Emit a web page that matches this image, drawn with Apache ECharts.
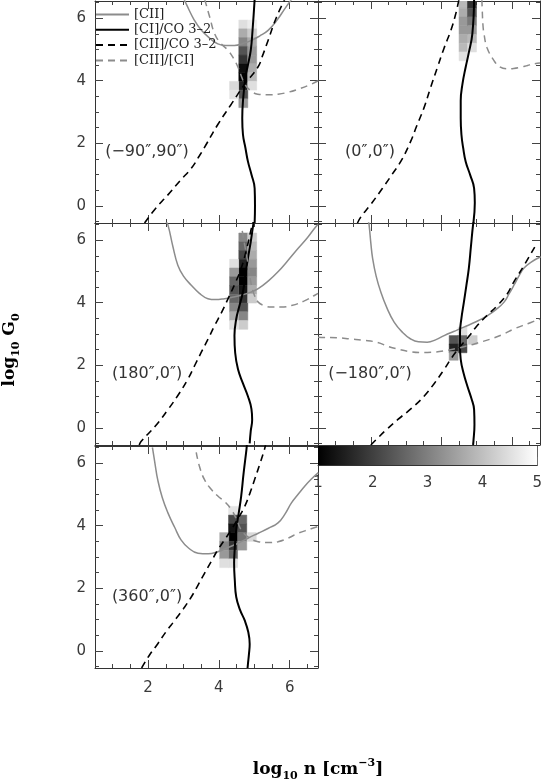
<!DOCTYPE html>
<html>
<head>
<meta charset="utf-8">
<script src="https://cdn.jsdelivr.net/npm/echarts@6/dist/echarts.min.js"></script>
<style>
html, body { margin: 0; padding: 0; background: #fff; }
#chart { width: 545px; height: 781px; }
</style>
</head>
<body>
<div id="chart"></div>
<script>
// axis ranges and ticks
const X_RANGE = [0.5, 6.8];
const Y_RANGE = [-0.55, 6.55];
const X_MAJOR = [2, 4, 6];
const X_MINOR = [1, 1.5, 2.5, 3, 3.5, 4.5, 5, 5.5, 6.5];
const Y_MAJOR = [0, 2, 4, 6];
const Y_MINOR = [-0.5, 0.5, 1, 1.5, 2.5, 3, 3.5, 4.5, 5, 5.5, 6.5];
const CBAR_RANGE = [1, 5];
const CBAR_TICKS = [1, 2, 3, 4, 5];

const seriesNames = ['[CII]', '[CI]/CO 3\u20132', '[CII]/CO 3\u20132', '[CII]/[CI]'];
const panelLabels = ['(\u221290\u2033,90\u2033)', '(0\u2033,0\u2033)', '(180\u2033,0\u2033)', '(\u2212180\u2033,0\u2033)', '(360\u2033,0\u2033)'];

// panel 1 (-90",90")
const p1Cii = [[3.02,6.6],[3.1,6.4],[3.3,5.95],[3.5,5.62],[3.75,5.35],[3.97,5.18],[4.2,5.13],[4.44,5.13],[4.7,5.2],[4.92,5.29],[5.15,5.43],[5.39,5.61],[5.65,5.95],[5.86,6.3],[6.05,6.6]];
const p1CiCo = [[5.01,6.6],[4.95,5.6],[4.9,4.97],[4.82,4.5],[4.75,4.11],[4.68,3.35],[4.66,2.8],[4.68,2.28],[4.75,1.85],[4.82,1.42],[4.92,1.0],[5.01,0.56],[5.02,0.0],[5.01,-0.55]];
const p1CiiCo = [[1.9,-0.55],[2.2,-0.1],[2.56,0.35],[2.9,0.8],[3.22,1.2],[3.45,1.6],[3.64,1.96],[3.97,2.6],[4.35,3.25],[4.73,3.89],[5.1,4.43],[5.25,4.85],[5.39,5.29],[5.63,6.04],[5.86,6.6]];
const p1CiiCi = [[3.6,6.6],[3.75,6.0],[3.88,5.5],[4.05,5.2],[4.26,4.97],[4.42,4.7],[4.54,4.43],[4.65,4.1],[4.73,3.89],[4.9,3.68],[5.1,3.57],[5.4,3.55],[5.67,3.57],[5.95,3.63],[6.24,3.73],[6.55,3.86],[6.81,4.0]];
const p1Heat = [[4.69,5.80,4.5],[4.69,5.52,3.7],[4.69,5.24,3.1],[4.69,4.96,2.3],[4.69,4.68,1.8],[4.69,4.40,1.2],[4.69,4.12,1.0],[4.69,3.84,1.5],[4.69,3.56,2.3],[4.69,3.28,3.4],
  [4.94,5.80,4.7],[4.94,5.52,4.2],[4.94,5.24,3.7],[4.94,4.96,3.4],[4.94,4.68,3.4],[4.94,4.40,3.7],[4.94,4.12,3.9],[4.94,3.84,4.5],
  [4.43,3.84,4.4],[4.43,3.56,4.6]];

// panel 2 (0",0")
const p2Cii = [];
const p2CiCo = [[4.93,6.6],[4.88,5.5],[4.78,4.9],[4.69,4.43],[4.6,3.9],[4.55,3.35],[4.55,2.8],[4.57,2.28],[4.62,1.85],[4.69,1.42],[4.82,0.98],[4.93,0.56],[4.95,0.1],[4.91,-0.55]];
const p2CiiCo = [[1.62,-0.55],[1.72,-0.35],[2.0,0.05],[2.33,0.56],[2.6,1.0],[2.85,1.42],[3.13,2.06],[3.3,2.55],[3.51,3.14],[3.7,3.8],[3.89,4.43],[4.08,5.05],[4.27,5.61],[4.4,6.1],[4.5,6.6]];
const p2CiiCi = [[5.15,6.6],[5.16,6.3],[5.18,5.8],[5.21,5.5],[5.3,5.05],[5.49,4.65],[5.65,4.45],[5.87,4.38],[6.05,4.39],[6.25,4.43],[6.45,4.49],[6.63,4.54],[6.8,4.57]];
const p2Heat = [[4.63,6.46,3.9],[4.63,6.18,3.7],[4.63,5.90,3.4],[4.63,5.62,3.4],[4.63,5.34,3.7],[4.63,5.06,3.9],[4.63,4.78,4.5],
  [4.87,6.46,1.8],[4.87,6.18,2.3],[4.87,5.90,2.9],[4.87,5.62,3.4],[4.87,5.34,3.9],[4.87,5.06,4.5]];

// panel 3 (180",0")
const p3Cii = [[2.5,6.6],[2.56,6.49],[2.7,5.8],[2.84,5.2],[3.0,4.85],[3.22,4.56],[3.45,4.3],[3.69,4.13],[3.9,4.1],[4.16,4.13],[4.4,4.18],[4.63,4.24],[4.88,4.33],[5.11,4.45],[5.4,4.7],[5.67,4.99],[5.95,5.35],[6.24,5.74],[6.5,6.08],[6.71,6.39],[6.8,6.5]];
const p3CiCo = [[4.99,6.6],[4.97,6.49],[4.9,5.95],[4.82,5.42],[4.75,4.9],[4.68,4.35],[4.58,3.9],[4.49,3.48],[4.44,2.95],[4.46,2.4],[4.54,1.87],[4.68,1.42],[4.82,1.01],[4.92,0.6],[4.94,0.26],[4.9,-0.1],[4.87,-0.5]];
const p3CiiCo = [[1.75,-0.55],[1.8,-0.44],[2.2,0.05],[2.56,0.58],[2.85,1.05],[3.12,1.55],[3.32,2.0],[3.5,2.41],[3.7,2.85],[3.88,3.27],[4.08,3.7],[4.26,4.13],[4.45,4.6],[4.63,5.1],[4.78,5.7],[4.92,6.39],[4.97,6.6]];
const p3CiiCi = [[4.66,6.3],[4.72,5.9],[4.8,5.4],[4.86,4.95],[4.92,4.56],[5.0,4.25],[5.11,4.02],[5.3,3.9],[5.48,3.86],[5.75,3.86],[6.05,3.91],[6.4,4.05],[6.71,4.24],[6.8,4.3]];
const p3Heat = [[4.69,6.09,3.1],[4.69,5.81,2.6],[4.69,5.53,2.1],[4.69,5.25,1.5],[4.69,4.97,1.0],[4.69,4.69,1.0],[4.69,4.41,1.3],[4.69,4.13,1.8],[4.69,3.85,2.3],[4.69,3.57,3.1],[4.69,3.29,4.2],
  [4.94,6.09,4.2],[4.94,5.81,3.9],[4.94,5.53,3.7],[4.94,5.25,3.4],[4.94,4.97,3.1],[4.94,4.69,3.4],[4.94,4.41,3.7],[4.94,4.13,4.2],
  [4.43,5.25,4.5],[4.43,4.97,3.4],[4.43,4.69,2.6],[4.43,4.41,2.3],[4.43,4.13,2.6],[4.43,3.85,3.1],[4.43,3.57,3.7],[4.43,3.29,4.5]];

// panel 4 (-180",0")
const p4Cii = [[1.93,6.6],[1.95,6.49],[2.0,5.9],[2.05,5.42],[2.15,4.85],[2.28,4.35],[2.45,3.85],[2.66,3.38],[2.9,3.05],[3.13,2.84],[3.35,2.75],[3.6,2.74],[3.85,2.82],[4.08,2.95],[4.35,3.08],[4.64,3.22],[5.0,3.4],[5.31,3.59],[5.55,3.78],[5.78,4.02],[5.92,4.28],[6.06,4.56],[6.2,4.85],[6.34,5.1],[6.55,5.3],[6.82,5.47]];
const p4CiCo = [[4.92,6.6],[4.9,6.49],[4.84,5.8],[4.78,5.1],[4.71,4.55],[4.64,4.02],[4.57,3.5],[4.53,3.05],[4.53,2.6],[4.55,2.19],[4.63,1.75],[4.74,1.33],[4.85,0.95],[4.93,0.58],[4.94,0.1],[4.91,-0.44],[4.9,-0.55]];
const p4CiiCo = [[2.0,-0.55],[2.14,-0.39],[2.45,-0.05],[2.76,0.26],[3.15,0.62],[3.51,1.01],[3.8,1.42],[4.08,1.87],[4.3,2.25],[4.55,2.62],[4.8,2.95],[5.02,3.27],[5.3,3.6],[5.59,3.91],[5.85,4.25],[6.06,4.67],[6.35,5.2],[6.65,5.78]];
const p4CiiCi = [[0.5,2.9],[0.68,2.89],[1.05,2.88],[1.43,2.84],[1.8,2.8],[2.19,2.73],[2.5,2.6],[2.76,2.52],[3.1,2.44],[3.42,2.41],[3.75,2.42],[4.08,2.46],[4.4,2.53],[4.74,2.62],[5.05,2.72],[5.4,2.84],[5.75,2.99],[6.06,3.16],[6.45,3.33],[6.8,3.48]];
const p4Heat = [[4.60,3.08,4.5],[4.35,2.81,2.3],[4.60,2.81,2.6],[4.89,2.81,4.2],[4.35,2.54,1.5],[4.60,2.54,2.1],[4.35,2.30,3.4]];

// panel 5 (360",0")
const p5Cii = [[2.12,6.5],[2.13,6.45],[2.2,5.95],[2.27,5.48],[2.4,4.9],[2.56,4.41],[2.75,3.95],[2.93,3.55],[3.15,3.28],[3.41,3.12],[3.7,3.1],[3.97,3.17],[4.25,3.3],[4.54,3.44],[4.82,3.6],[5.11,3.76],[5.4,3.92],[5.67,4.09],[5.87,4.38],[6.05,4.73],[6.25,5.02],[6.43,5.27],[6.62,5.5],[6.81,5.7]];
const p5CiCo = [[4.79,6.6],[4.78,6.45],[4.7,5.7],[4.63,4.95],[4.56,4.4],[4.49,3.87],[4.45,3.3],[4.43,2.8],[4.45,2.25],[4.49,1.72],[4.6,1.3],[4.73,0.97],[4.83,0.6],[4.87,0.22],[4.85,-0.1],[4.82,-0.43],[4.81,-0.55]];
const p5CiiCo = [[1.82,-0.55],[1.85,-0.48],[2.05,-0.12],[2.27,0.22],[2.5,0.6],[2.75,0.97],[3.0,1.35],[3.22,1.72],[3.4,2.08],[3.59,2.47],[3.78,2.85],[3.97,3.23],[4.16,3.55],[4.35,3.87],[4.55,4.25],[4.73,4.62],[4.88,5.05],[5.01,5.48],[5.15,5.95],[5.29,6.45],[5.32,6.6]];
const p5CiiCi = [[3.36,6.35],[3.45,5.9],[3.59,5.48],[3.77,5.18],[3.97,4.95],[4.18,4.75],[4.35,4.52],[4.5,4.2],[4.63,3.87],[4.85,3.62],[5.11,3.49],[5.4,3.46],[5.67,3.49],[5.95,3.6],[6.24,3.76],[6.55,3.88],[6.81,3.98]];
const p5Heat = [[4.40,4.48,4.6],[4.40,4.20,2.1],[4.40,3.92,1.3],[4.40,3.64,1.0],[4.40,3.36,1.8],[4.40,3.08,2.6],[4.40,2.80,4.5],
  [4.66,4.20,2.6],[4.66,3.92,2.3],[4.66,3.64,2.8],[4.66,3.36,3.4],
  [4.15,3.64,3.7],[4.15,3.36,3.1],[4.15,3.08,3.4],[4.15,2.80,4.5],
  [4.93,3.64,4.4]];

const CELL_W = 0.255;
const CELL_H = 0.28;
const FONT = 'DejaVu Sans';
const SERIF = 'DejaVu Serif';

const panels = [
    { col: 0, row: 0, cii: p1Cii, ciCo: p1CiCo, ciiCo: p1CiiCo, ciiCi: p1CiiCi, heat: p1Heat },
    { col: 1, row: 0, cii: p2Cii, ciCo: p2CiCo, ciiCo: p2CiiCo, ciiCi: p2CiiCi, heat: p2Heat },
    { col: 0, row: 1, cii: p3Cii, ciCo: p3CiCo, ciiCo: p3CiiCo, ciiCi: p3CiiCi, heat: p3Heat },
    { col: 1, row: 1, cii: p4Cii, ciCo: p4CiCo, ciiCo: p4CiiCo, ciiCi: p4CiiCi, heat: p4Heat },
    { col: 0, row: 2, cii: p5Cii, ciCo: p5CiCo, ciiCo: p5CiiCo, ciiCi: p5CiiCi, heat: p5Heat }
];

const colLeft = [95, 318];
const colWidth = [223, 222];
const rowTop = [1, 223, 446];
const rowHeight = 222;

const lineStyles = [
    { color: '#8c8c8c', width: 1.5, type: 'solid' },
    { color: '#000', width: 2, type: 'solid' },
    { color: '#000', width: 1.6, type: [7, 5] },
    { color: '#8c8c8c', width: 1.5, type: [7, 5] }
];

function grayOf(v) {
    let t = (v - CBAR_RANGE[0]) / (CBAR_RANGE[1] - CBAR_RANGE[0]);
    t = Math.max(0, Math.min(1, t));
    const c = Math.round(255 * t);
    return 'rgb(' + c + ',' + c + ',' + c + ')';
}

function axis(gi, pos, range, ticks, len, line, labels, margin) {
    return {
        type: 'value', gridIndex: gi, position: pos, min: range[0], max: range[1],
        silent: true,
        axisLine: { show: line, onZero: false, lineStyle: { color: '#333', width: 1 } },
        axisTick: { show: true, inside: true, length: len, customValues: ticks, lineStyle: { color: '#444', width: 1 } },
        axisLabel: { show: labels, customValues: ticks, margin: margin, fontFamily: FONT, fontSize: 15, color: '#3a3a3a' },
        splitLine: { show: false }
    };
}

const grids = [], xAxes = [], yAxes = [], series = [], graphics = [];

panels.forEach((p, i) => {
    const left = colLeft[p.col], top = rowTop[p.row];
    grids.push({ left: left, top: top, width: colWidth[p.col], height: rowHeight, containLabel: false });
    const xi = xAxes.length, yi = yAxes.length;
    ['bottom', 'top'].forEach(pos => {
        xAxes.push(axis(i, pos, X_RANGE, X_MAJOR, 8, true, pos === 'bottom' && i === 4, 13));
        xAxes.push(axis(i, pos, X_RANGE, X_MINOR, 4, false, false, 13));
    });
    ['left', 'right'].forEach(pos => {
        yAxes.push(axis(i, pos, Y_RANGE, Y_MAJOR, 8, true, pos === 'left' && p.col === 0, 9));
        yAxes.push(axis(i, pos, Y_RANGE, Y_MINOR, 4, false, false, 9));
    });

    series.push({
        type: 'custom', xAxisIndex: xi, yAxisIndex: yi, clip: true, z: 1, silent: true,
        data: p.heat,
        renderItem: function (params, api) {
            const x = api.value(0), y = api.value(1), v = api.value(2);
            const a = api.coord([x - CELL_W / 2, y + CELL_H / 2]);
            const b = api.coord([x + CELL_W / 2, y - CELL_H / 2]);
            const c = grayOf(v);
            return { type: 'rect', shape: { x: a[0], y: a[1], width: b[0] - a[0], height: b[1] - a[1] },
                style: { fill: c, stroke: c, lineWidth: 0.5 } };
        }
    });

    [p.cii, p.ciCo, p.ciiCo, p.ciiCi].forEach((d, k) => {
        series.push({
            name: seriesNames[k], type: 'line', xAxisIndex: xi, yAxisIndex: yi,
            data: d, symbol: 'none', showSymbol: false, smooth: 0.45, clip: true, z: 2 + k, silent: true,
            lineStyle: lineStyles[k], itemStyle: { color: lineStyles[k].color }
        });
    });

    graphics.push({
        type: 'text', x: left + 52, y: top + 151, silent: true,
        style: { text: panelLabels[i], fontFamily: FONT, fontSize: 16, fill: '#333', align: 'center', verticalAlign: 'middle' }
    });
});

// colour bar below the (-180",0") panel
const gb = grids.length;
grids.push({ left: 318, top: 446, width: 222, height: 19 });
const cxi = xAxes.length, cyi = yAxes.length;
xAxes.push({
    type: 'value', gridIndex: gb, position: 'bottom', min: CBAR_RANGE[0], max: CBAR_RANGE[1], interval: 1, silent: true,
    axisLine: { show: true, onZero: false, lineStyle: { color: '#333', width: 1 } },
    axisTick: { show: true, inside: true, length: 8, lineStyle: { color: '#444' } },
    minorTick: { show: true, splitNumber: 5, length: 4, lineStyle: { color: '#444' } },
    axisLabel: { show: true, customValues: CBAR_TICKS, margin: 11, fontFamily: FONT, fontSize: 15, color: '#3a3a3a' },
    splitLine: { show: false }
});
xAxes.push({
    type: 'value', gridIndex: gb, position: 'top', min: CBAR_RANGE[0], max: CBAR_RANGE[1], silent: true,
    axisLine: { show: true, onZero: false, lineStyle: { color: '#333', width: 1 } },
    axisTick: { show: false }, axisLabel: { show: false }, splitLine: { show: false }
});
['left', 'right'].forEach(pos => {
    yAxes.push({
        type: 'value', gridIndex: gb, position: pos, min: 0, max: 1, silent: true,
        axisLine: { show: true, onZero: false, lineStyle: { color: '#333', width: 1 } },
        axisTick: { show: false }, axisLabel: { show: false }, splitLine: { show: false }
    });
});
series.push({
    type: 'custom', xAxisIndex: cxi, yAxisIndex: cyi, silent: true, z: 1,
    data: [[CBAR_RANGE[0], CBAR_RANGE[1]]],
    renderItem: function (params, api) {
        const a = api.coord([api.value(0), 1]);
        const b = api.coord([api.value(1), 0]);
        return { type: 'rect', shape: { x: a[0], y: a[1], width: b[0] - a[0], height: b[1] - a[1] },
            style: { fill: new echarts.graphic.LinearGradient(0, 0, 1, 0, [
                { offset: 0, color: grayOf(CBAR_RANGE[0]) }, { offset: 1, color: grayOf(CBAR_RANGE[1]) }]) } };
    }
});

// axis titles
const titleRich = {
    b: { fontFamily: 'DejaVu Serif', fontWeight: 'bold', fontSize: 17, lineHeight: 24, verticalAlign: 'middle' },
    s: { fontFamily: 'DejaVu Serif', fontWeight: 'bold', fontSize: 11, lineHeight: 11, verticalAlign: 'bottom' },
    p: { fontFamily: 'DejaVu Serif', fontWeight: 'bold', fontSize: 11, lineHeight: 11, verticalAlign: 'top' }
};
graphics.push({
    type: 'text', x: 318, y: 770, silent: true,
    style: { text: '{b|log}{s|10}{b| n [cm}{p|\u22123}{b|]}', rich: titleRich, align: 'center', verticalAlign: 'middle', fill: '#000' }
});
graphics.push({
    type: 'text', x: 10, y: 350, rotation: Math.PI / 2, silent: true,
    style: { text: '{b|log}{s|10}{b| G}{s|0}', rich: titleRich, align: 'center', verticalAlign: 'middle', fill: '#000' }
});

const chart = echarts.init(document.getElementById('chart'));
chart.setOption({
    animation: false,
    backgroundColor: '#fff',
    legend: {
        data: seriesNames, orient: 'vertical', left: 95, top: 8, padding: 0,
        itemWidth: 33, itemHeight: 14, itemGap: 2.3, selectedMode: false,
        itemStyle: { opacity: 0 },
        textStyle: { fontFamily: SERIF, fontSize: 13, color: '#222' }
    },
    grid: grids,
    xAxis: xAxes,
    yAxis: yAxes,
    series: series,
    graphic: graphics
});
window.addEventListener('resize', () => {
    chart.resize();
});
</script>
</body>
</html>
